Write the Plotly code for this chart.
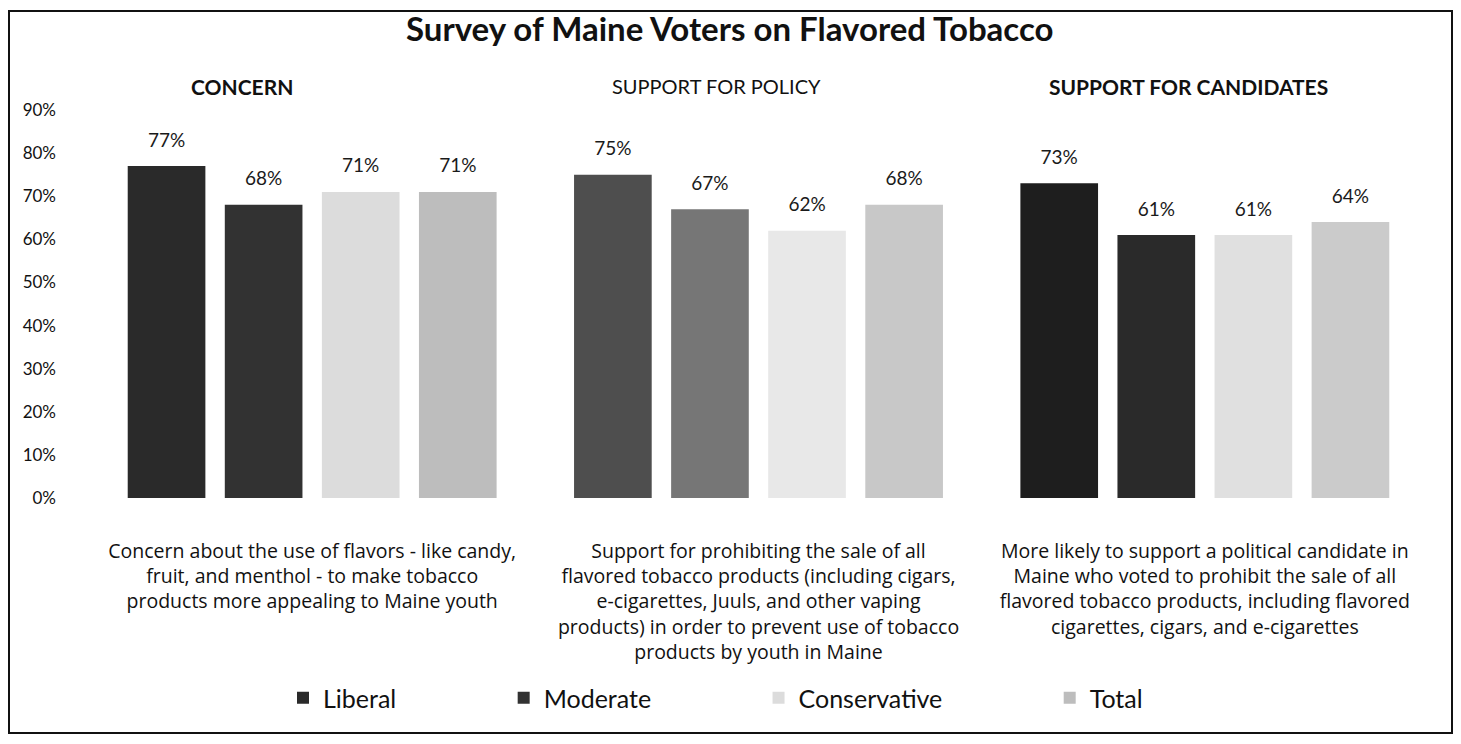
import plotly.graph_objects as go

# ---- data ----
categories = [
    "Concern about the use of flavors - like candy,<br>fruit, and menthol - to make tobacco<br>products more appealing to Maine youth",
    "Support for prohibiting the sale of all<br>flavored tobacco products (including cigars,<br>e-cigarettes, Juuls, and other vaping<br>products) in order to prevent use of tobacco<br>products by youth in Maine",
    "More likely to support a political candidate in<br>Maine who voted to prohibit the sale of all<br>flavored tobacco products, including flavored<br>cigarettes, cigars, and e-cigarettes",
]
section_headers = ["CONCERN", "SUPPORT FOR POLICY", "SUPPORT FOR CANDIDATES"]
series_names = ["Liberal", "Moderate", "Conservative", "Total"]
liberal = [77, 75, 73]
moderate = [68, 67, 61]
conservative = [71, 62, 61]
total = [71, 68, 64]
y_tick_values = [0, 10, 20, 30, 40, 50, 60, 70, 80, 90]
y_tick_labels = ["0%", "10%", "20%", "30%", "40%", "50%", "60%", "70%", "80%", "90%"]

series_values = [liberal, moderate, conservative, total]

# ---- styling ----
FONT = "Lato"
LABEL_FONT = "Open Sans"
W, H = 1461, 744
PLOT_L, PLOT_R, PLOT_T, PLOT_B = 89, 1428, 110, 498
BARGAP = 0.13

bar_colors = [
    ["#2a2a2a", "#4e4e4e", "#1e1e1e"],
    ["#323232", "#767676", "#2a2a2a"],
    ["#dcdcdc", "#e8e8e8", "#e0e0e0"],
    ["#bdbdbd", "#c8c8c8", "#cbcbcb"],
]
# trailing spaces widen each legend entry so the gaps match
legend_pad = ["\u00a0" * 16, "\u00a0" * 16, "\u00a0" * 16, ""]


def px_x(px):
    return (px - PLOT_L) / (PLOT_R - PLOT_L)


def px_y(py):
    return (PLOT_B - py) / (PLOT_B - PLOT_T)


fig = go.Figure()

for name, vals, cols, pad in zip(series_names, series_values, bar_colors, legend_pad):
    fig.add_trace(go.Bar(
        name=name + pad,
        x=categories,
        y=vals,
        marker=dict(color=cols, line=dict(width=0)),
        hoverinfo="skip",
        showlegend=True,
    ))

# value labels, grouped the same way as the bars
for name, vals in zip(series_names, series_values):
    fig.add_trace(go.Scatter(
        x=categories,
        y=vals,
        mode="markers+text",
        text=[f"{v}%" for v in vals],
        textposition="top center",
        textfont=dict(family=FONT, size=19, color="#1a1a1a"),
        marker=dict(size=22, opacity=0),
        hoverinfo="skip",
        showlegend=False,
        cliponaxis=False,
    ))

annotations = [
    dict(text="<b>Survey of Maine Voters on Flavored Tobacco</b>", x=px_x(730), y=px_y(28),
         xref="paper", yref="paper", showarrow=False, xanchor="center", yanchor="middle",
         font=dict(family=FONT, size=33, color="#111")),
    dict(text="<b>" + section_headers[0] + "</b>", x=px_x(242), y=px_y(86),
         xref="paper", yref="paper", showarrow=False, xanchor="center", yanchor="middle",
         font=dict(family=FONT, size=21, color="#111")),
    dict(text=section_headers[1], x=px_x(716), y=px_y(86),
         xref="paper", yref="paper", showarrow=False, xanchor="center", yanchor="middle",
         font=dict(family=FONT, size=20, color="#111")),
    dict(text="<b>" + section_headers[2] + "</b>", x=px_x(1188), y=px_y(86),
         xref="paper", yref="paper", showarrow=False, xanchor="center", yanchor="middle",
         font=dict(family=FONT, size=21, color="#111")),
]

fig.update_layout(
    width=W, height=H,
    margin=dict(l=PLOT_L, r=W - PLOT_R, t=PLOT_T, b=H - PLOT_B, pad=0),
    paper_bgcolor="white", plot_bgcolor="white",
    barmode="group", bargap=BARGAP, bargroupgap=0.2,
    scattermode="group", scattergap=BARGAP,
    font=dict(family=FONT, size=17, color="#111"),
    annotations=annotations,
    shapes=[dict(type="rect", xref="paper", yref="paper",
                 x0=px_x(9), x1=px_x(1452), y0=px_y(733), y1=px_y(11),
                 line=dict(color="#111", width=2), fillcolor="rgba(0,0,0,0)", layer="below")],
    legend=dict(orientation="h", x=px_x(283), y=px_y(698), xanchor="left", yanchor="middle",
                font=dict(family=FONT, size=25, color="#111"), traceorder="normal",
                itemwidth=30, bgcolor="rgba(0,0,0,0)"),
    showlegend=True,
)

fig.update_xaxes(showline=False, showgrid=False, zeroline=False, ticks="",
                 tickfont=dict(family=LABEL_FONT, size=19.5, color="#111"), ticklabelstandoff=39)
fig.update_yaxes(range=[0, 90], tickvals=y_tick_values, ticktext=y_tick_labels,
                 showline=False, showgrid=False, zeroline=False, ticks="",
                 tickfont=dict(family=FONT, size=17, color="#111"), ticklabelstandoff=32)

fig.write_html("out.html")
